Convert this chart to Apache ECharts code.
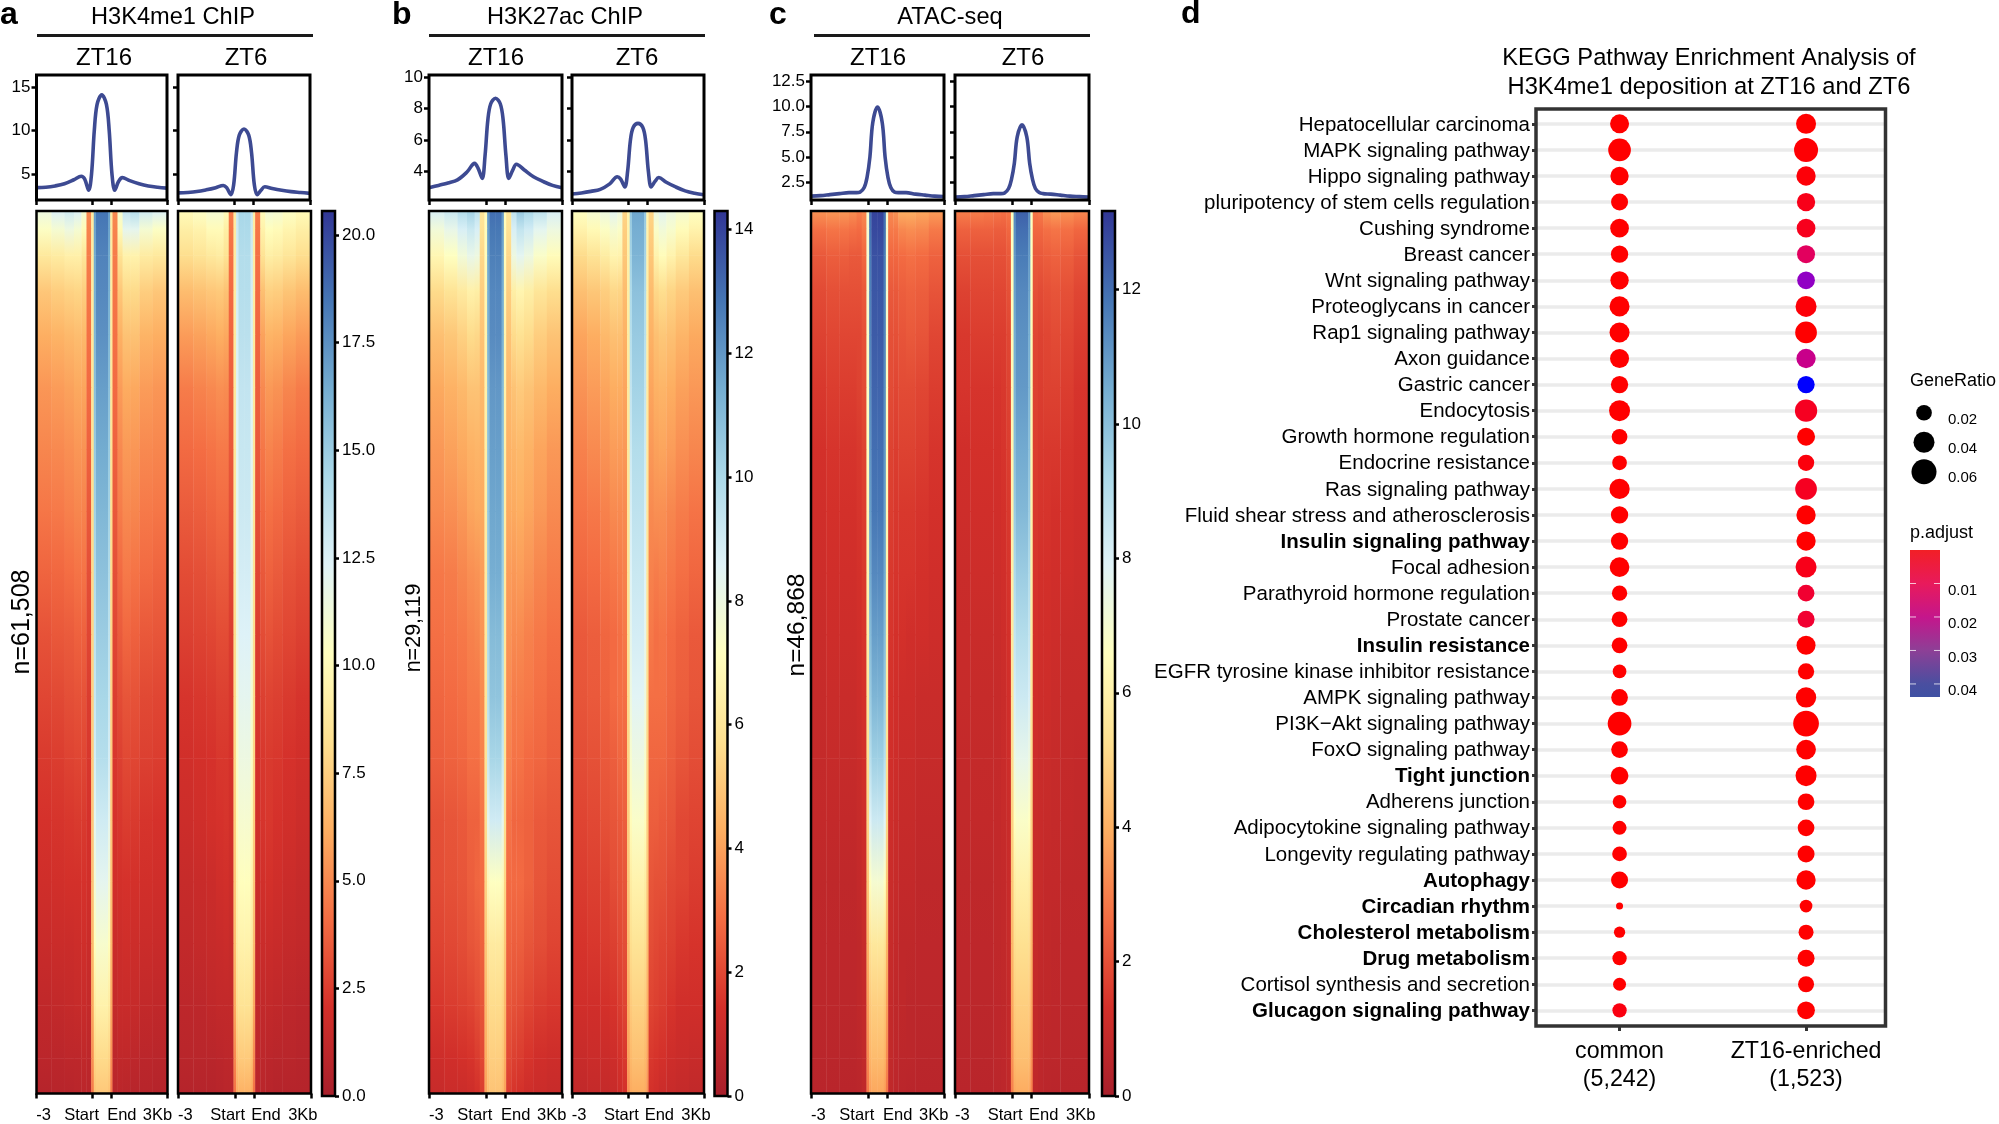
<!DOCTYPE html>
<html><head><meta charset="utf-8">
<style>html,body{margin:0;padding:0;background:#fff}#c{width:1999px;height:1124px}</style>
<script src="https://cdn.jsdelivr.net/npm/echarts@6/dist/echarts.min.js"></script>
</head><body><div id="c"></div>
<script>
const FONT='"Liberation Sans",Arial,sans-serif';
const palette=['#a81f2b','#d4302a','#f46d43','#fdae61','#fee090','#ffffbf','#e0f3f8','#abd9e9','#74add1','#4575b4','#313695'];

// profile curves: x in kb-scaled units (Start = 0, End = 1)
const profX=[-3,-2.5,-2,-1.5,-1,-.6,-.42,-.2,-.05,.1,.25,.5,.75,.9,1.05,1.2,1.4,1.6,2,2.5,3,3.5,4];
const profA16=[3.5,3.55,3.7,3.95,4.4,4.8,4.5,3.2,5,10,13,14.1,13,10,5,3.2,4.2,4.65,4.3,3.95,3.7,3.55,3.45];
const profA6=[2.9,2.95,3.05,3.25,3.5,3.75,3.5,2.7,3.8,7.5,9.5,10.2,9.5,7.5,3.8,2.7,3.2,3.6,3.4,3.2,3.05,2.95,2.85];
const profB16=[2.95,3.1,3.25,3.45,3.95,4.5,4.2,3.55,5,7.3,8.3,8.65,8.3,7.3,5,3.55,4.05,4.45,4.1,3.65,3.35,3.1,2.95];
const profB6=[2.55,2.62,2.72,2.85,3.2,3.65,3.5,3,4,6,6.8,7.05,6.8,6,4,3,3.35,3.6,3.3,3,2.75,2.6,2.5];
const profC16=[1.15,1.2,1.3,1.4,1.5,1.5,1.55,2,3,5,8.4,9.95,8.4,5,3,2,1.55,1.5,1.5,1.35,1.25,1.15,1.1];
const profC6=[1.05,1.1,1.2,1.3,1.4,1.4,1.45,1.9,2.8,4.4,7,8.2,7,4.4,2.8,1.9,1.5,1.4,1.35,1.25,1.15,1.1,1.05];

// heatmap grids: one row per rank (percent of regions), one column per x-bin
const rowRanks=[0,2,5,9,14,20,27,34,41,48,55,62,69,76,83,90,96,100];
const colEdges=[-3,-2.2,-1.5,-1,-.6,-.33,-.08,.06,.18,.5,.82,.94,1.06,1.33,1.6,2,2.5,3.2,4];
const heatA16=[
[11.5,12.5,13,12.5,11,5,9,17,18.5,18.5,17,9,5,11,13.5,14,13,12.5],
[10.5,11,11.5,11,10,4.8,9,16.8,18.3,18.3,16.8,9,4.8,10,12,12,11,10.5],
[8.8,9,9.3,9.3,8.6,4.6,9,16.5,18,18,16.5,9,4.6,8.4,9.4,9.5,9,8.8],
[7.2,7.5,7.7,7.8,7.5,4.4,9,16.3,17.8,17.8,16.3,9,4.4,7.2,8,8,7.5,7.2],
[6.2,6.4,6.6,6.8,6.6,4.2,8.8,16,17.5,17.5,16,8.8,4.2,6.3,7,7,6.4,6.2],
[5.4,5.6,5.8,6,5.9,4,8.6,15.6,17,17,15.6,8.6,4,5.6,6.1,6,5.6,5.4],
[4.9,5,5.2,5.4,5.3,3.7,8.4,15.1,16.5,16.5,15.1,8.4,3.7,5,5.5,5.4,5,4.9],
[4.4,4.5,4.7,4.9,4.8,3.4,8.2,14.7,16,16,14.7,8.2,3.4,4.6,5,4.9,4.5,4.4],
[3.8,3.9,4.1,4.3,4.3,3.1,8,14.2,15.5,15.5,14.2,8,3.1,4,4.5,4.3,4,3.8],
[3.2,3.4,3.5,3.7,3.7,2.8,7.8,13.7,15,15,13.7,7.8,2.8,3.5,3.9,3.7,3.4,3.3],
[2.8,2.9,3.1,3.2,3.2,2.5,7.6,13.3,14.5,14.5,13.3,7.6,2.5,3,3.3,3.2,2.9,2.8],
[2.4,2.5,2.7,2.8,2.8,2.3,7.4,12.8,14,14,12.8,7.4,2.3,2.6,2.9,2.8,2.6,2.5],
[2.1,2.2,2.3,2.4,2.4,2.1,7.2,12,13,13,12,7.2,2.1,2.3,2.5,2.4,2.2,2.1],
[1.8,1.9,2,2,2.1,1.9,7,11.1,12,12,11.1,7,1.9,2,2.1,2,1.9,1.8],
[1.5,1.6,1.6,1.7,1.8,1.6,6.6,10.2,10.8,10.8,10.2,6.6,1.6,1.7,1.8,1.7,1.6,1.5],
[1.1,1.2,1.3,1.4,1.5,1.3,6,9,9.4,9.4,9,6,1.3,1.5,1.5,1.4,1.2,1.1],
[.9,.9,1,1,1.1,1,5.2,7.8,8,8,7.8,5.2,1,1.1,1.1,1,.9,.8],
[.6,.7,.7,.8,.9,.8,4.5,7,7.2,7.2,7,4.5,.8,.9,.8,.7,.7,.6]];
const heatA6=[
[10,10.5,11,11,10,4.6,9,13.3,14.5,14.5,13.3,9,4.6,10,11.2,11,10.5,10],
[9.2,9.5,10,10,9.2,4.4,9,13.1,14.3,14.3,13.1,9,4.4,9.4,10.2,10,9.6,9.2],
[8.2,8.5,8.8,9,8.4,4.2,9,13,14.1,14.1,13,9,4.2,8.4,9.2,9,8.6,8.2],
[6.8,7,7.2,7.3,7,4,9,12.8,14,14,12.8,9,4,6.9,7.6,7.5,7.1,6.8],
[5.6,5.8,6,6.2,6,3.8,8.9,12.6,13.8,13.8,12.6,8.9,3.8,5.8,6.4,6.3,5.9,5.6],
[4.6,4.8,5,5.2,5.1,3.6,8.8,12.4,13.5,13.5,12.4,8.8,3.6,5,5.5,5.3,4.9,4.6],
[4,4.1,4.3,4.5,4.5,3.4,8.7,12.2,13.3,13.3,12.2,8.7,3.4,4.4,4.8,4.6,4.2,4],
[3.5,3.6,3.8,4,4,3.1,8.6,12,13.1,13.1,12,8.6,3.1,3.9,4.2,4,3.7,3.5],
[3,3.1,3.3,3.5,3.5,2.8,8.4,11.8,12.8,12.8,11.8,8.4,2.8,3.4,3.7,3.5,3.2,3],
[2.6,2.7,2.8,3,3,2.5,8.2,11.4,12.4,12.4,11.4,8.2,2.5,3,3.2,3,2.8,2.6],
[2.2,2.3,2.4,2.6,2.6,2.3,8,11,12,12,11,8,2.3,2.6,2.7,2.6,2.4,2.2],
[1.9,2,2.1,2.3,2.3,2.1,7.8,10.6,11.5,11.5,10.6,7.8,2.1,2.3,2.4,2.3,2.1,1.9],
[1.7,1.8,2,2.1,2.2,1.9,7.5,10.1,10.9,10.9,10.1,7.5,1.9,2.2,2.3,2.1,1.9,1.7],
[1.4,1.5,1.6,1.8,1.9,1.7,7.2,9.6,10.2,10.2,9.6,7.2,1.7,1.9,2,1.8,1.6,1.4],
[1.2,1.3,1.4,1.5,1.6,1.4,6.8,9,9.4,9.4,9,6.8,1.4,1.6,1.6,1.5,1.3,1.2],
[1,1,1.1,1.2,1.2,1.2,6,8.1,8.4,8.4,8.1,6,1.2,1.2,1.2,1.1,1,.9],
[.8,.8,.8,.9,1,1,5,7,7.3,7.3,7,5,1,1,.9,.8,.8,.7],
[.6,.6,.6,.7,.8,.8,4.2,6,6.3,6.3,6,4.2,.8,.8,.7,.6,.6,.6]];
const heatB16=[
[8.8,9.2,9.8,10.2,9.5,6,7,12,13,13,12,7,6,9.5,10.5,10,9.5,8.8],
[7.8,8.2,8.8,9.2,8.8,5.8,7,11.8,12.8,12.8,11.8,7,5.8,8.8,9.4,9,8.4,8],
[6.8,7.2,7.8,8.2,8,5.5,7,11.6,12.6,12.6,11.6,7,5.5,8,8.4,8,7.4,7],
[5.6,5.9,6.2,6.5,6.4,5.2,6.8,11.4,12.4,12.4,11.4,6.8,5.2,6.4,6.7,6.4,6,5.7],
[4.8,5,5.3,5.6,5.5,4.9,6.6,11.3,12.3,12.3,11.3,6.6,4.9,5.6,5.8,5.6,5.2,4.9],
[4.2,4.4,4.6,4.9,4.9,4.6,6.5,11,12,12,11,6.5,4.6,4.9,5.1,4.9,4.6,4.3],
[3.8,4,4.2,4.4,4.5,4.4,6.4,10.8,11.8,11.8,10.8,6.4,4.4,4.5,4.6,4.4,4.1,3.8],
[3.5,3.6,3.8,4.1,4.2,4.2,6.3,10.6,11.6,11.6,10.6,6.3,4.2,4.2,4.3,4.1,3.8,3.5],
[3.1,3.2,3.4,3.6,3.7,3.9,6.2,10.4,11.4,11.4,10.4,6.2,3.9,3.8,3.9,3.7,3.4,3.2],
[2.9,3,3.1,3.3,3.4,3.7,6.1,10,11,11,10,6.1,3.7,3.5,3.5,3.3,3.1,2.9],
[2.7,2.8,2.9,3.1,3.1,3.5,6,9.7,10.7,10.7,9.7,6,3.5,3.2,3.2,3.1,2.9,2.7],
[2.5,2.6,2.7,2.9,2.9,3.3,5.9,9.2,10.1,10.1,9.2,5.9,3.3,3,3,2.8,2.7,2.5],
[2.2,2.3,2.4,2.6,2.6,3,5.7,8.4,9,9,8.4,5.7,3,2.7,2.7,2.6,2.4,2.3],
[2.1,2.2,2.3,2.5,2.7,2.8,5.4,6.9,7.2,7.2,6.9,5.4,2.8,2.8,2.8,2.6,2.3,2.1],
[1.9,2,2.1,2.3,2.4,2.6,5,6,6.2,6.2,6,5,2.6,2.5,2.5,2.3,2.1,1.9],
[1.6,1.7,1.8,1.9,2.1,2.3,4.6,5.4,5.6,5.6,5.4,4.6,2.3,2.2,2.1,1.9,1.7,1.6],
[1.2,1.3,1.4,1.5,1.7,2,4.3,5,5.2,5.2,5,4.3,2,1.8,1.7,1.5,1.3,1.2],
[1,1.1,1.1,1.2,1.4,1.7,4,4.7,4.9,4.9,4.7,4,1.7,1.5,1.4,1.2,1.1,1]];
const heatB6=[
[7.2,7.6,8,8.4,8,5.4,6.6,10.6,11.6,11.6,10.6,6.6,5.4,8,8.4,8,7.6,7.2],
[6.6,6.9,7.3,7.6,7.4,5.2,6.6,10.4,11.4,11.4,10.4,6.6,5.2,7.4,7.8,7.5,7,6.6],
[5.6,5.9,6.3,6.7,6.6,5,6.5,10.2,11.2,11.2,10.2,6.5,5,6.6,7,6.6,6.1,5.6],
[4.8,5,5.2,5.5,5.4,4.7,6.4,9.9,10.8,10.8,9.9,6.4,4.7,5.5,5.7,5.4,5.1,4.8],
[4.1,4.3,4.6,4.8,4.8,4.4,6.3,9.7,10.5,10.5,9.7,6.3,4.4,4.8,5,4.8,4.5,4.2],
[3.7,3.9,4.1,4.3,4.3,4.1,6.2,9.4,10.2,10.2,9.4,6.2,4.1,4.4,4.5,4.3,4,3.8],
[3.3,3.5,3.7,3.9,3.9,3.8,6.1,9.1,9.8,9.8,9.1,6.1,3.8,4,4.1,3.9,3.6,3.4],
[3,3.1,3.3,3.5,3.5,3.5,6,8.8,9.5,9.5,8.8,6,3.5,3.6,3.6,3.4,3.2,3],
[2.7,2.8,3,3.1,3.2,3.3,5.9,8.6,9.2,9.2,8.6,5.9,3.3,3.2,3.3,3.1,2.9,2.7],
[2.4,2.5,2.7,2.8,2.9,3.1,5.8,8.3,8.9,8.9,8.3,5.8,3.1,2.9,3,2.8,2.6,2.4],
[2.3,2.4,2.6,2.8,2.9,2.9,5.6,8,8.5,8.5,8,5.6,2.9,2.9,2.9,2.7,2.5,2.3],
[2.1,2.2,2.4,2.5,2.7,2.7,5.4,7.5,8,8,7.5,5.4,2.7,2.7,2.7,2.5,2.3,2.1],
[1.9,2,2.2,2.3,2.4,2.5,5.2,7,7.4,7.4,7,5.2,2.5,2.5,2.4,2.3,2,1.9],
[1.7,1.8,1.9,2.1,2.2,2.3,5,6.3,6.6,6.6,6.3,5,2.3,2.2,2.2,2,1.9,1.7],
[1.5,1.6,1.7,1.8,2,2.1,4.7,5.7,5.9,5.9,5.7,4.7,2.1,2,1.9,1.8,1.6,1.5],
[1.3,1.3,1.4,1.5,1.7,1.9,4.3,5.1,5.3,5.3,5.1,4.3,1.9,1.8,1.7,1.5,1.3,1.3],
[1,1.1,1.1,1.2,1.4,1.6,4,4.6,4.8,4.8,4.6,4,1.6,1.5,1.4,1.2,1.1,1],
[.8,.9,.9,1,1.2,1.4,3.6,4.2,4.3,4.3,4.2,3.6,1.4,1.3,1.1,1,.9,.8]];
const heatC16=[
[3.4,3.5,3.5,3.3,3,3.2,7,12,12.9,12.9,12,7,3.2,3.4,4,4,3.8,3.6],
[2.7,2.8,2.8,2.7,2.6,2.9,7,11.9,12.8,12.8,11.9,7,2.9,2.9,3.2,3.3,3.2,2.9],
[2.2,2.3,2.3,2.2,2.2,2.5,7,11.7,12.6,12.6,11.7,7,2.5,2.5,2.6,2.7,2.6,2.4],
[1.9,2,2,2,2,2.2,7,11.6,12.5,12.5,11.6,7,2.2,2.2,2.3,2.4,2.3,2.1],
[1.7,1.8,1.8,1.8,1.8,2,6.8,11.5,12.4,12.4,11.5,6.8,2,2,2.1,2.2,2.1,1.8],
[1.5,1.6,1.6,1.6,1.7,1.9,6.7,11.3,12.2,12.2,11.3,6.7,1.9,1.8,1.9,1.9,1.8,1.6],
[1.3,1.4,1.4,1.4,1.5,1.7,6.5,11.1,12,12,11.1,6.5,1.7,1.6,1.7,1.7,1.6,1.4],
[1.2,1.3,1.3,1.3,1.4,1.6,6.3,10.9,11.8,11.8,10.9,6.3,1.6,1.5,1.5,1.5,1.4,1.3],
[1.1,1.2,1.2,1.2,1.3,1.5,6.1,10.6,11.4,11.4,10.6,6.1,1.5,1.4,1.4,1.4,1.3,1.2],
[1,1.1,1.1,1.1,1.2,1.4,5.9,10.1,10.9,10.9,10.1,5.9,1.4,1.3,1.3,1.2,1.2,1.1],
[.9,1,1,1,1.1,1.3,5.6,9.6,10.3,10.3,9.6,5.6,1.3,1.2,1.1,1.1,1,1],
[.85,.9,.9,.9,1,1.2,5.3,8.9,9.5,9.5,8.9,5.3,1.2,1.1,1,1,.9,.9],
[.8,.8,.8,.8,.9,1.1,5,7.9,8.4,8.4,7.9,5,1.1,1,.9,.9,.8,.8],
[.7,.7,.7,.7,.8,1,4.6,6.6,7,7,6.6,4.6,1,.9,.8,.8,.7,.7],
[.65,.65,.65,.65,.7,.9,4.1,5.4,5.6,5.6,5.4,4.1,.9,.8,.7,.7,.65,.65],
[.6,.6,.6,.6,.7,.8,3.6,4.6,4.8,4.8,4.6,3.6,.8,.7,.7,.6,.6,.6],
[.55,.55,.55,.55,.6,.75,3.2,4.1,4.3,4.3,4.1,3.2,.75,.65,.6,.6,.55,.55],
[.5,.5,.5,.5,.55,.7,2.8,3.6,3.8,3.8,3.6,2.8,.7,.6,.55,.5,.5,.5]];
const heatC6=[
[3,3,2.9,2.8,2.7,2.8,6.6,11.4,12.3,12.3,11.4,6.6,2.8,2.9,3.4,3.6,3.4,3.2],
[2.4,2.4,2.4,2.3,2.3,2.5,6.6,11.2,12,12,11.2,6.6,2.5,2.5,2.7,2.8,2.7,2.5],
[2,2,2,2,2,2.2,6.6,11,11.7,11.7,11,6.6,2.2,2.2,2.3,2.4,2.3,2.1],
[1.7,1.8,1.8,1.8,1.8,2,6.5,10.8,11.4,11.4,10.8,6.5,2,1.9,2,2.1,2,1.8],
[1.5,1.6,1.6,1.6,1.6,1.8,6.4,10.5,11.2,11.2,10.5,6.4,1.8,1.7,1.8,1.9,1.8,1.6],
[1.4,1.4,1.4,1.4,1.5,1.7,6.3,10.3,11,11,10.3,6.3,1.7,1.6,1.7,1.7,1.6,1.4],
[1.2,1.3,1.3,1.3,1.4,1.6,6.2,10,10.6,10.6,10,6.2,1.6,1.5,1.5,1.5,1.4,1.3],
[1.1,1.2,1.2,1.2,1.3,1.5,6,9.6,10.2,10.2,9.6,6,1.5,1.4,1.4,1.3,1.3,1.2],
[1,1.1,1.1,1.1,1.2,1.4,5.9,9.1,9.6,9.6,9.1,5.9,1.4,1.3,1.3,1.2,1.2,1.1],
[.95,1,1,1,1.1,1.3,5.7,8.6,9,9,8.6,5.7,1.3,1.2,1.2,1.1,1,1],
[.9,.9,.9,.9,1,1.2,5.5,8.1,8.4,8.4,8.1,5.5,1.2,1.1,1.1,1,.9,.9],
[.8,.85,.85,.85,.95,1.1,5.2,7.4,7.6,7.6,7.4,5.2,1.1,1,1,.9,.85,.8],
[.75,.8,.8,.8,.9,1,4.9,6.6,6.8,6.8,6.6,4.9,1,.95,.9,.85,.8,.75],
[.7,.7,.7,.75,.8,.95,4.6,5.8,6,6,5.8,4.6,.95,.9,.8,.8,.7,.7],
[.65,.65,.65,.7,.75,.9,4.2,5.2,5.3,5.3,5.2,4.2,.9,.8,.75,.7,.65,.65],
[.6,.6,.6,.65,.7,.8,3.8,4.7,4.8,4.8,4.7,3.8,.8,.7,.7,.65,.6,.6],
[.55,.55,.55,.6,.65,.75,3.4,4.3,4.4,4.4,4.3,3.4,.75,.65,.6,.6,.55,.55],
[.5,.5,.5,.55,.6,.7,3,3.8,3.9,3.9,3.8,3,.7,.6,.55,.5,.5,.5]];

// panel d
const pathways=['Hepatocellular carcinoma','MAPK signaling pathway','Hippo signaling pathway','pluripotency of stem cells regulation','Cushing syndrome','Breast cancer','Wnt signaling pathway','Proteoglycans in cancer','Rap1 signaling pathway','Axon guidance','Gastric cancer','Endocytosis','Growth hormone regulation','Endocrine resistance','Ras signaling pathway','Fluid shear stress and atherosclerosis','Insulin signaling pathway','Focal adhesion','Parathyroid hormone regulation','Prostate cancer','Insulin resistance','EGFR tyrosine kinase inhibitor resistance','AMPK signaling pathway','PI3K\u2212Akt signaling pathway','FoxO signaling pathway','Tight junction','Adherens junction','Adipocytokine signaling pathway','Longevity regulating pathway','Autophagy','Circadian rhythm','Cholesterol metabolism','Drug metabolism','Cortisol synthesis and secretion','Glucagon signaling pathway'];
const boldPathways=['Insulin signaling pathway','Insulin resistance','Tight junction','Autophagy','Circadian rhythm','Cholesterol metabolism','Drug metabolism','Glucagon signaling pathway'];
const groups=['common\n(5,242)','ZT16-enriched\n(1,523)'];
const ratioCommon=[.0316,.0479,.0289,.0242,.0304,.0252,.0289,.0357,.0357,.0316,.0252,.04,.0199,.0169,.0369,.0252,.0252,.0344,.0187,.0199,.0199,.0141,.0232,.0529,.0232,.0267,.0141,.0149,.0169,.0242,.002,.0085,.0158,.0123,.0158];
const ratioEnriched=[.0357,.0544,.0328,.0289,.0304,.0278,.0267,.04,.0432,.0328,.0252,.046,.0278,.0218,.0432,.0328,.0328,.04,.0232,.0242,.0316,.0218,.0369,.0636,.0344,.04,.0232,.0232,.0242,.0328,.0116,.0178,.0242,.0209,.0267];
const padjCommon=[0,0,0,0,0,0,0,0,0,0,0,0,0,0,0,0,0,0,0,0,0,0,0,0,0,0,0,0,0,0,0,0,0,0,.002];
const padjEnriched=[0,.0005,.001,.003,.0035,.012,.033,.001,0,.022,.0439,.004,0,.0015,.004,0,0,.003,.006,.006,0,0,0,0,0,0,0,0,0,0,0,0,0,0,0];
const legendRatios=[.02,.04,.06];
const padjTicks=[.01,.02,.03,.04];

const chart=echarts.init(document.getElementById('c'),null,{renderer:'canvas'});
const grids=[],xAxes=[],yAxes=[],series=[],graphics=[];
function addGrid(g){grids.push(g);return grids.length-1;}
const noLine={show:false,onZero:false};

function text(x,y,t,size,opt){opt=opt||{};graphics.push({type:'text',x,y,rotation:opt.rot||0,z:20,style:{text:t,fill:'#000',fontFamily:FONT,fontSize:size,fontWeight:opt.bold?'bold':'normal',textAlign:opt.align||'center',textVerticalAlign:'middle'}});}

function heatCells(rows){const out=[];
  for(let i=0;i<rows.length-1;i++)for(let j=0;j<colEdges.length-1;j++)
    out.push([colEdges[j],colEdges[j+1],rowRanks[i],rowRanks[i+1],rows[i][j],rows[i+1][j]]);
  return out;}

const tickVals=[-3,0,1,4];
function addHeat(left,right,rows,max,labelAt){
  const idx=addGrid({left,top:211,width:right-left,height:885,show:true,z:6,borderColor:'#000',borderWidth:2.5,backgroundColor:'rgba(0,0,0,0)'});
  const names=['-3','Start','End','3Kb'];
  xAxes.push({gridIndex:idx,type:'value',position:'bottom',min:-3,max:4,splitLine:{show:false},axisLine:noLine,
    axisTick:{show:true,length:5,lineStyle:{color:'#000',width:2.5},customValues:tickVals},
    axisLabel:{show:true,customValues:labelAt,margin:13.5,fontFamily:FONT,fontSize:16.5,color:'#000',formatter:(v,i)=>{const k=labelAt.indexOf(v);return names[k];}}});
  yAxes.push({gridIndex:idx,type:'value',inverse:true,min:0,max:100,show:false,axisLine:noLine});
  series.push({type:'custom',xAxisIndex:idx,yAxisIndex:idx,silent:true,clip:true,z:2,
    encode:{x:[0,1],y:[2,3]},data:heatCells(rows),
    renderItem:(p,api)=>{
      const a=api.coord([api.value(0),api.value(2)]),b=api.coord([api.value(1),api.value(3)]);
      const c0=echarts.color.lerp(Math.min(1,api.value(4)/max),palette),c1=echarts.color.lerp(Math.min(1,api.value(5)/max),palette);
      return {type:'rect',shape:{x:a[0],y:a[1],width:b[0]-a[0]+.4,height:b[1]-a[1]+.6},
        style:{fill:new echarts.graphic.LinearGradient(0,0,0,1,[{offset:0,color:c0},{offset:1,color:c1}])}};
    }});
}
function addProfile(left,right,vals,ymin,ymax,ticks,showLabels,fmt){
  const idx=addGrid({left,top:75,width:right-left,height:125,show:true,z:6,borderColor:'#000',borderWidth:3,backgroundColor:'rgba(0,0,0,0)'});
  xAxes.push({gridIndex:idx,type:'value',position:'bottom',min:-3,max:4,splitLine:{show:false},axisLine:noLine,
    axisTick:{show:true,length:5,lineStyle:{color:'#000',width:2.5},customValues:tickVals},axisLabel:{show:false}});
  yAxes.push({gridIndex:idx,type:'value',position:'left',min:ymin,max:ymax,splitLine:{show:false},axisLine:noLine,
    axisTick:{show:true,length:5,lineStyle:{color:'#000',width:2.5},customValues:ticks},
    axisLabel:{show:showLabels,customValues:ticks,margin:6,fontFamily:FONT,fontSize:17,color:'#000',formatter:fmt}});
  series.push({type:'line',xAxisIndex:idx,yAxisIndex:idx,silent:true,symbol:'none',smooth:.35,z:2,
    lineStyle:{color:'#3d4a92',width:3.6},data:profX.map((x,i)=>[x,vals[i]])});
}
function addBar(left,max,ticks,fmt){
  const idx=addGrid({left,top:211,width:13,height:885,show:true,z:6,borderColor:'#000',borderWidth:2.5,backgroundColor:'rgba(0,0,0,0)'});
  xAxes.push({gridIndex:idx,type:'value',min:0,max:1,show:false,axisLine:noLine});
  yAxes.push({gridIndex:idx,type:'value',position:'right',min:0,max,splitLine:{show:false},axisLine:noLine,
    axisTick:{show:true,length:4,lineStyle:{color:'#000',width:2.5},customValues:ticks},
    axisLabel:{show:true,customValues:ticks,margin:7,fontFamily:FONT,fontSize:17,color:'#000',formatter:fmt}});
  series.push({type:'custom',xAxisIndex:idx,yAxisIndex:idx,silent:true,z:2,encode:{x:[0,1],y:[2,3]},data:[[0,1,0,max]],
    renderItem:(p,api)=>{
      const a=api.coord([api.value(0),api.value(3)]),b=api.coord([api.value(1),api.value(2)]);
      const stops=palette.map((c,i)=>({offset:1-i/(palette.length-1),color:c})).reverse();
      return {type:'rect',shape:{x:a[0],y:a[1],width:b[0]-a[0],height:b[1]-a[1]},
        style:{fill:new echarts.graphic.LinearGradient(0,0,0,1,stops)}};
    }});
}
const labelsL=[-2.62,-.59,1.56,3.46], labelsR=[-2.62,-.38,1.63,3.57];
const f1=v=>v.toFixed(1), f0=v=>String(v);
// panel a
addProfile(36.5,167,profA16,2.09,16.36,[5,10,15],true,f0);
addProfile(178,310,profA6,2.09,16.36,[5,10,15],false,f0);
addHeat(36.5,167.5,heatA16,20.56,labelsL);
addHeat(178,311,heatA6,20.56,labelsR);
addBar(322,20.56,[0,2.5,5,7.5,10,12.5,15,17.5,20],f1);
// panel b
addProfile(429,562,profB16,2.17,10.13,[4,6,8,10],true,f0);
addProfile(572,704,profB6,2.17,10.13,[4,6,8,10],false,f0);
addHeat(429,562,heatB16,14.3,labelsL);
addHeat(572,704,heatB6,14.3,labelsR);
addBar(714.5,14.3,[0,2,4,6,8,10,12,14],f0);
// panel c
addProfile(811,944,profC16,.77,13.1,[2.5,5,7.5,10,12.5],true,f1);
addProfile(955,1089,profC6,.77,13.1,[2.5,5,7.5,10,12.5],false,f1);
addHeat(811,944,heatC16,13.17,labelsL);
addHeat(955,1089,heatC6,13.17,labelsR);
addBar(1102,13.17,[0,2,4,6,8,10,12],f0);

// panel d dot plot
const sizeOf=r=>3+90*Math.sqrt(r);
const dIdx=addGrid({left:1536,top:109,width:349.5,height:917,show:true,z:6,borderColor:'#333',borderWidth:3.5,backgroundColor:'rgba(0,0,0,0)'});
const rowVals=pathways.map((_,i)=>i);
xAxes.push({gridIndex:dIdx,type:'value',position:'bottom',min:-.448,max:1.426,
  splitLine:{show:true,lineStyle:{color:'#ebebeb',width:3.5},showMinLine:false,showMaxLine:false},axisLine:noLine,
  axisTick:{show:true,length:5,lineStyle:{color:'#333',width:3},customValues:[0,1]},
  axisLabel:{show:true,customValues:[0,1],margin:12,fontFamily:FONT,fontSize:23.2,lineHeight:28,color:'#000',formatter:(v)=>groups[v]}});
yAxes.push({gridIndex:dIdx,type:'value',position:'left',inverse:true,min:-.57,max:34.6,
  splitLine:{show:true,lineStyle:{color:'#ebebeb',width:3.5}},axisLine:noLine,
  axisTick:{show:true,length:4,lineStyle:{color:'#333',width:3},customValues:rowVals},
  axisLabel:{show:true,customValues:rowVals,margin:6,color:'#000',
    formatter:v=>{const n=pathways[v];return (boldPathways.includes(n)?'{b|':'{n|')+n+'}';},
    rich:{n:{fontFamily:FONT,fontSize:20.5,color:'#000',padding:[2,0,0,0]},b:{fontFamily:FONT,fontSize:20.5,fontWeight:'bold',color:'#000',padding:[2,0,0,0]}}}});
const dotData=[...pathways.map((n,i)=>[0,i,ratioCommon[i],padjCommon[i]]),...pathways.map((n,i)=>[1,i,ratioEnriched[i],padjEnriched[i]])];
const dotSeries=series.length;
series.push({type:'scatter',xAxisIndex:dIdx,yAxisIndex:dIdx,silent:true,z:3,data:dotData,encode:{x:0,y:1},symbol:'circle',itemStyle:{opacity:1},symbolSize:d=>sizeOf(d[2])});

// GeneRatio size legend
const sIdx=addGrid({left:1904,top:398,width:40,height:88.5,show:false});
xAxes.push({gridIndex:sIdx,type:'value',min:-1,max:1,show:false,axisLine:noLine});
yAxes.push({gridIndex:sIdx,type:'value',position:'right',inverse:true,min:-.5,max:2.5,splitLine:{show:false},axisLine:noLine,axisTick:{show:false},
  axisLabel:{show:true,customValues:[.24,1.24,2.2],margin:4,fontFamily:FONT,fontSize:15,color:'#000',formatter:v=>legendRatios[Math.round(v-.22)].toFixed(2)}});
series.push({type:'scatter',xAxisIndex:sIdx,yAxisIndex:sIdx,silent:true,symbol:'circle',itemStyle:{color:'#000',opacity:1},symbolSize:d=>sizeOf(d[2]),
  data:legendRatios.map((r,i)=>[0,i,r])});

// p.adjust colour bar
const pIdx=addGrid({left:1910,top:550,width:30,height:147,show:false});
xAxes.push({gridIndex:pIdx,type:'value',min:0,max:1,show:false,axisLine:noLine});
const pLabelAt=padjTicks.map(v=>v+.0022);
yAxes.push({gridIndex:pIdx,type:'value',position:'right',inverse:true,min:0,max:.0439,splitLine:{show:false},axisLine:noLine,axisTick:{show:false},
  axisLabel:{show:true,customValues:pLabelAt,margin:8,fontFamily:FONT,fontSize:15,color:'#000',formatter:v=>padjTicks[Math.round((v-.0022)*100)-1].toFixed(2)}});
series.push({type:'custom',xAxisIndex:pIdx,yAxisIndex:pIdx,silent:true,encode:{x:[0,1],y:[2,3]},data:[[0,1,0,.0439]],
  renderItem:(p,api)=>{
    const a=api.coord([api.value(0),api.value(2)]),b=api.coord([api.value(1),api.value(3)]);
    const kids=[{type:'rect',shape:{x:a[0],y:a[1],width:b[0]-a[0],height:b[1]-a[1]},
      style:{fill:new echarts.graphic.LinearGradient(0,0,0,1,[{offset:0,color:'#f21f26'},{offset:.23,color:'#e81a5c'},{offset:.46,color:'#c4168c'},{offset:.68,color:'#8e3f96'},{offset:.91,color:'#4a4fa0'},{offset:1,color:'#3f51a3'}])}}];
    padjTicks.forEach(t=>{const y=api.coord([0,t])[1];
      kids.push({type:'line',shape:{x1:a[0],y1:y,x2:a[0]+6,y2:y},style:{stroke:'#fff',lineWidth:1,opacity:.75}});
      kids.push({type:'line',shape:{x1:b[0]-6,y1:y,x2:b[0],y2:y},style:{stroke:'#fff',lineWidth:1,opacity:.75}});});
    return {type:'group',children:kids};
  }});

// free text
text(0,15,'a',32,{bold:true,align:'left'});text(392,15,'b',32,{bold:true,align:'left'});
text(769,15,'c',32,{bold:true,align:'left'});text(1181,14,'d',32,{bold:true,align:'left'});
text(173,17,'H3K4me1 ChIP',23.6);text(565,17,'H3K27ac ChIP',23.6);text(950,17,'ATAC-seq',23.6);
[[37,313],[429,705],[814,1090]].forEach(r=>graphics.push({type:'line',z:20,shape:{x1:r[0],y1:35.5,x2:r[1],y2:35.5},style:{stroke:'#1a1a1a',lineWidth:3}}));
[[104,'ZT16'],[246,'ZT6'],[496,'ZT16'],[637,'ZT6'],[878,'ZT16'],[1023,'ZT6']].forEach(t=>text(t[0],58.5,t[1],24));
text(22,622,'n=61,508',25,{rot:Math.PI/2});text(414,628,'n=29,119',21.5,{rot:Math.PI/2});text(797,625,'n=46,868',24.5,{rot:Math.PI/2});
text(1709,58.3,'KEGG Pathway Enrichment Analysis of',23.7);text(1709,87.3,'H3K4me1 deposition at ZT16 and ZT6',23.7);
text(1910,381,'GeneRatio',18,{align:'left'});text(1910,533,'p.adjust',18,{align:'left'});

chart.setOption({animation:false,backgroundColor:'#fff',grid:grids,xAxis:xAxes,yAxis:yAxes,series,
  graphic:{elements:graphics},
  visualMap:[{show:false,type:'continuous',seriesIndex:dotSeries,dimension:3,min:0,max:.0439,
    inRange:{color:['#ff0000','#e5005a','#c8008a','#9200c4','#0000ff']}}]});
</script></body></html>
